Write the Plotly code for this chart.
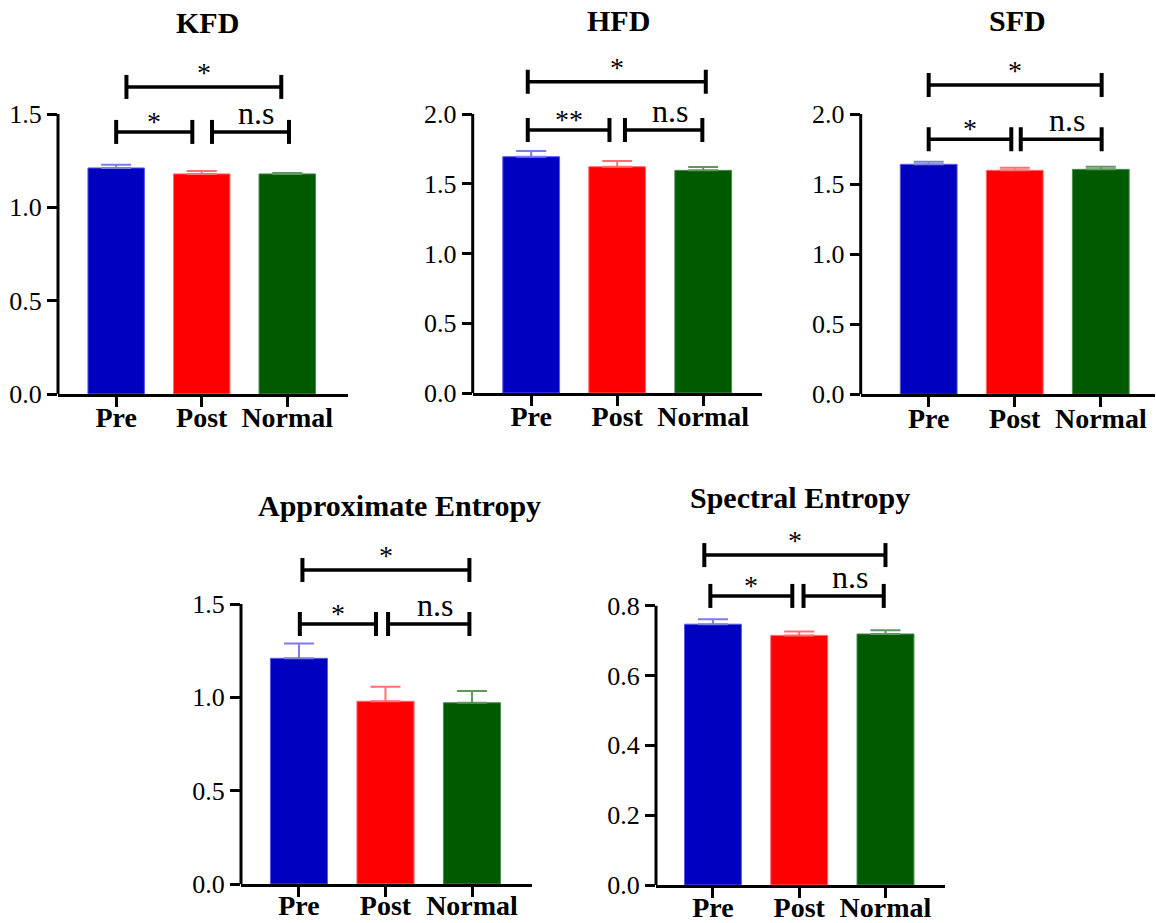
import plotly.graph_objects as go

# ---------------- data ----------------
categories = ["Pre", "Post", "Normal"]

kfd_mean = [1.211, 1.179, 1.179]
kfd_sem = [0.017, 0.016, 0.005]

hfd_mean = [1.694, 1.622, 1.596]
hfd_sem = [0.041, 0.041, 0.024]

sfd_mean = [1.641, 1.598, 1.605]
sfd_sem = [0.019, 0.019, 0.019]

apen_mean = [1.209, 0.979, 0.971]
apen_sem = [0.080, 0.078, 0.063]

spen_mean = [0.747, 0.715, 0.719]
spen_sem = [0.014, 0.011, 0.011]

titles = ["KFD", "HFD", "SFD", "Approximate Entropy", "Spectral Entropy"]
means = [kfd_mean, hfd_mean, sfd_mean, apen_mean, spen_mean]
sems = [kfd_sem, hfd_sem, sfd_sem, apen_sem, spen_sem]

y_tickvals = [
    [0.0, 0.5, 1.0, 1.5],
    [0.0, 0.5, 1.0, 1.5, 2.0],
    [0.0, 0.5, 1.0, 1.5, 2.0],
    [0.0, 0.5, 1.0, 1.5],
    [0.0, 0.2, 0.4, 0.6, 0.8],
]

# significance labels: [Pre vs Normal, Pre vs Post, Post vs Normal]
sig_labels = [
    ["*", "*", "n.s"],
    ["*", "**", "n.s"],
    ["*", "*", "n.s"],
    ["*", "*", "n.s"],
    ["*", "*", "n.s"],
]

# ---------------- styling / layout ----------------
W, H = 1156, 923


def px_x(px):
    return px / W


def px_y(py):
    return 1 - py / H


bar_colors = ["#0000C0", "#FF0000", "#005A00"]
edge_colors = ["#5A5AE6", "#FF6A6A", "#4E8A4E"]
err_colors = ["#7C7CEA", "#FF7070", "#5F985F"]
SERIF = "Liberation Serif"

# per panel pixel geometry (page pixels): x_left, x_right, y_zero, y_axis_top, y_dom_top, x_range
panels = [
    dict(xl=58, xr=348, y0=394, yt=114, ytop=42, xrange=[-0.68, 2.71], standoff=-14),
    dict(xl=472.7, xr=761.7, y0=393, yt=114, ytop=42, xrange=[-0.68, 2.68], standoff=-14),
    dict(xl=860.7, xr=1155, y0=394.3, yt=114, ytop=42, xrange=[-0.79, 2.63], standoff=-13),
    dict(xl=241, xr=531.7, y0=884, yt=604, ytop=528, xrange=[-0.67, 2.69], standoff=-16),
    dict(xl=656, xr=945, y0=885, yt=605.7, ytop=520, xrange=[-0.66, 2.69], standoff=-15),
]
title_pos = [(207, 22), (618, 20), (1018, 20), (400, 505), (800, 497)]

# bracket levels [top, lower] in data units
bracket_levels = [
    [1.645, 1.404],
    [2.232, 1.885],
    [2.207, 1.819],
    [1.682, 1.393],
    [0.945, 0.828],
]
# bracket x-extents: [Pre-Normal, Pre-Post, Post-Normal]
bracket_x = [
    [[0.12, 1.93], [0.00, 0.89], [1.12, 2.02]],
    [[-0.04, 2.03], [-0.04, 0.91], [1.09, 1.99]],
    [[0.00, 2.01], [0.00, 0.96], [1.07, 2.01]],
    [[0.04, 1.97], [0.01, 0.89], [1.03, 1.97]],
    [[-0.10, 2.00], [-0.03, 0.92], [1.05, 1.98]],
]

fig = go.Figure()
shapes = []
annotations = []
xpos = list(range(len(categories)))

for i, p in enumerate(panels):
    ax = "" if i == 0 else str(i + 1)
    xname, yname = "x" + ax, "y" + ax
    axis_max = y_tickvals[i][-1]
    scale = (p["y0"] - p["yt"]) / axis_max
    ymax = (p["y0"] - p["ytop"]) / scale

    for j, cat in enumerate(categories):
        fig.add_trace(go.Bar(
            x=[xpos[j]], y=[means[i][j]], width=0.66,
            marker=dict(color=bar_colors[j], line=dict(color=edge_colors[j], width=1)),
            error_y=dict(type="data", array=[sems[i][j]], arrayminus=[0], symmetric=False,
                         color=err_colors[j], thickness=2, width=15),
            xaxis=xname, yaxis=yname, showlegend=False, name=cat,
        ))

    fig.layout["xaxis" + ax] = dict(
        domain=[px_x(p["xl"]), px_x(p["xr"])], range=p["xrange"], anchor=yname,
        tickvals=xpos, ticktext=categories, ticks="outside", ticklen=10, tickwidth=3,
        tickcolor="black", showline=True, linecolor="black", linewidth=3,
        showgrid=False, zeroline=False, fixedrange=True, automargin=False,
        ticklabelstandoff=p["standoff"],
        tickfont=dict(family=SERIF, size=28, color="black", weight="bold"),
    )
    fig.layout["yaxis" + ax] = dict(
        domain=[px_y(p["y0"]), px_y(p["ytop"])], range=[0, ymax], anchor=xname,
        tickvals=y_tickvals[i], ticktext=["%.1f" % v for v in y_tickvals[i]],
        ticks="outside", ticklen=10, tickwidth=3, tickcolor="black",
        showline=False, showgrid=False, zeroline=False, fixedrange=True, automargin=False,
        tickfont=dict(family=SERIF, size=26, color="black"),
    )
    # visible y axis line only up to the last tick
    shapes.append(dict(type="line", xref=xname + " domain", yref=yname,
                       x0=0, x1=0, y0=0, y1=axis_max,
                       line=dict(color="black", width=3), layer="above"))

    # significance brackets
    levels = [bracket_levels[i][0], bracket_levels[i][1], bracket_levels[i][1]]
    for k in range(3):
        xa, xb = bracket_x[i][k]
        lv = levels[k]
        shapes.append(dict(type="line", xref=xname, yref=yname, x0=xa, x1=xb, y0=lv, y1=lv,
                           line=dict(color="black", width=3.5)))
        for xe in (xa, xb):
            shapes.append(dict(type="line", xref=xname, yref=yname, x0=xe, x1=xe,
                               ysizemode="pixel", yanchor=lv, y0=-12, y1=12,
                               line=dict(color="black", width=4)))
        lab = sig_labels[i][k]
        is_ns = lab == "n.s"
        annotations.append(dict(
            x=(xa + xb) / 2 + (0.07 if is_ns else 0), y=lv, xref=xname, yref=yname,
            text=lab, showarrow=False, yanchor="bottom",
            yshift=(-1 if is_ns else (-3 if k == 0 else -7)),
            font=dict(family=SERIF, size=32 if is_ns else 28, color="black"),
        ))

    tx, ty = title_pos[i]
    annotations.append(dict(
        x=px_x(tx), y=px_y(ty), xref="paper", yref="paper", text=titles[i],
        showarrow=False, xanchor="center", yanchor="middle", borderpad=0,
        font=dict(family=SERIF, size=30, color="black", weight="bold"),
    ))

fig.update_layout(
    width=W, height=H, margin=dict(l=0, r=0, t=0, b=0, autoexpand=False),
    paper_bgcolor="white", plot_bgcolor="white",
    barmode="overlay", shapes=shapes, annotations=annotations,
    showlegend=False,
)

fig.write_html(
    "out.html",
    config={"displayModeBar": False},
    post_script="document.body.style.margin='0px';document.body.style.overflow='hidden';",
)
